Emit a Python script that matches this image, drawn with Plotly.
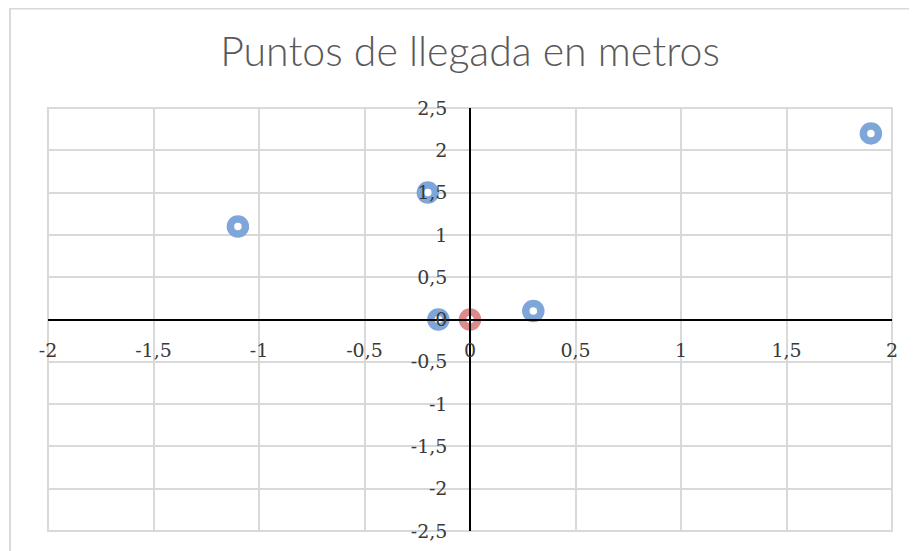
import plotly.graph_objects as go

# Data
blue_x = [-1.1, -0.2, -0.15, 0.3, 1.9]
blue_y = [1.1, 1.5, 0.0, 0.1, 2.2]
red_x = [0.0]
red_y = [0.0]

x_tickvals = [-2, -1.5, -1, -0.5, 0, 0.5, 1, 1.5, 2]
x_ticktext = ["-2", "-1,5", "-1", "-0,5", "0", "0,5", "1", "1,5", "2"]
y_tickvals = [-2.5, -2, -1.5, -1, -0.5, 0, 0.5, 1, 1.5, 2, 2.5]
y_ticktext = ["-2,5", "-2", "-1,5", "-1", "-0,5", "0", "0,5", "1", "1,5", "2", "2,5"]

x_range = [-2, 2]
y_range = [-2.5, 2.5]

title_text = "Puntos de llegada en metros"

fig = go.Figure()
fig.add_trace(go.Scatter(
    x=blue_x, y=blue_y, mode="markers",
    marker=dict(symbol="circle", size=15, color="white",
                line=dict(color="#7fa6d8", width=7.5)),
    showlegend=False, hoverinfo="x+y"))
fig.add_trace(go.Scatter(
    x=red_x, y=red_y, mode="markers",
    marker=dict(symbol="circle", size=15, color="white",
                line=dict(color="#df8a8a", width=7.5)),
    showlegend=False, hoverinfo="x+y"))

tick_font = dict(family="DejaVu Serif", size=19, color="#3a3a3a")

fig.update_layout(
    width=917, height=551,
    paper_bgcolor="white", plot_bgcolor="white",
    margin=dict(l=40, r=33, t=100, b=28, autoexpand=False),
    title=dict(text=title_text, x=0.5, xref="paper", xanchor="center",
               y=1 - 44 / 551, yref="container", yanchor="middle",
               font=dict(family="Lato", size=41, color="#595959", weight=300)),
    xaxis=dict(range=x_range, tickvals=x_tickvals, ticktext=x_ticktext,
               showgrid=True, gridcolor="#d9d9d9", gridwidth=2,
               zeroline=False, showline=True, linecolor="#000000", linewidth=1.5,
               anchor="free", automargin=False,
               position=(0 - y_range[0]) / (y_range[1] - y_range[0]),
               ticks="", ticklabelstandoff=14, tickfont=tick_font),
    yaxis=dict(range=y_range, tickvals=y_tickvals, ticktext=y_ticktext,
               showgrid=True, gridcolor="#d9d9d9", gridwidth=2,
               zeroline=False, showline=True, linecolor="#000000", linewidth=1.5,
               anchor="free", automargin=False,
               position=(0 - x_range[0]) / (x_range[1] - x_range[0]),
               ticks="", ticklabelstandoff=18, tickfont=tick_font),
    shapes=[
        dict(type="rect", xref="paper", yref="paper",
             x0=-0.045, x1=1.2, y0=-0.3, y1=1.235,
             line=dict(color="#d9d9d9", width=2), fillcolor="rgba(0,0,0,0)",
             layer="below"),
        dict(type="rect", xref="paper", yref="paper",
             x0=0, x1=1, y0=0, y1=1,
             line=dict(color="#d9d9d9", width=2), fillcolor="rgba(0,0,0,0)",
             layer="below"),
    ],
)

fig.write_html("out.html")
